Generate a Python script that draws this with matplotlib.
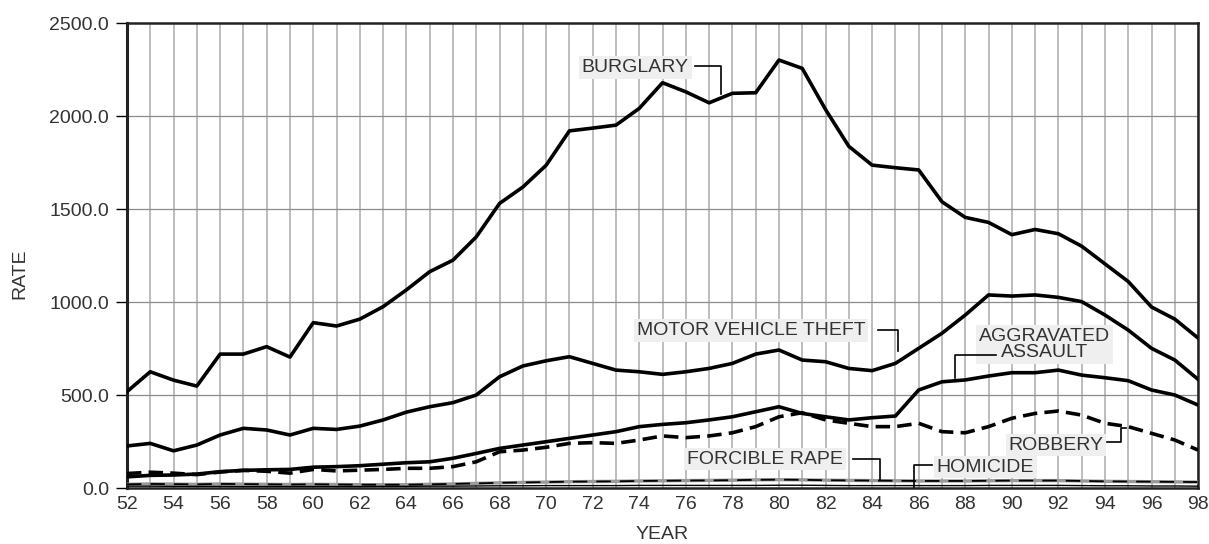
import matplotlib
matplotlib.use("Agg")
import matplotlib.pyplot as plt

plt.rcParams['font.family'] = ['Liberation Sans', 'DejaVu Sans']

years = list(range(1952, 1999))

burglary = [518, 625, 580, 548, 720, 720, 760, 704, 889, 871, 908, 975, 1065, 1163, 1225,
            1350, 1530, 1618, 1735, 1920, 1935, 1951, 2041, 2179, 2130, 2071, 2122, 2125, 2301,
            2256, 2035, 1837, 1736, 1722, 1710, 1539, 1455, 1428, 1362, 1390, 1367, 1300, 1205,
            1110, 973, 908, 806]

motor_vehicle_theft = [226, 240, 200, 231, 285, 321, 312, 285, 321, 315, 333, 366, 408, 437, 459,
                       500, 598, 656, 684, 706, 670, 634, 625, 611, 625, 643, 670, 720, 742,
                       688, 679, 643, 631, 670, 751, 832, 930, 1038, 1032, 1038, 1025, 1002, 930,
                       849, 751, 688, 584]

aggravated_assault = [60, 68, 70, 75, 88, 95, 98, 100, 112, 115, 120, 128, 136, 141, 160,
                      186, 213, 231, 249, 267, 285, 303, 330, 342, 351, 366, 383, 410, 437,
                      401, 383, 366, 378, 387, 527, 571, 581, 602, 620, 620, 634, 607, 593,
                      577, 527, 500, 446]

robbery = [78, 85, 80, 72, 86, 95, 90, 80, 100, 92, 96, 100, 106, 106, 115,
           141, 195, 204, 219, 240, 244, 240, 258, 280, 271, 280, 297, 330, 383,
           405, 366, 348, 330, 330, 348, 303, 297, 330, 375, 401, 414, 392, 348,
           330, 294, 258, 204]

forcible_rape = [20, 22, 21, 20, 22, 21, 20, 19, 20, 19, 18, 18, 18, 20, 22,
                 25, 28, 30, 32, 34, 35, 36, 38, 39, 40, 41, 42, 44, 45,
                 44, 42, 41, 40, 39, 38, 38, 38, 39, 40, 40, 40, 38, 36,
                 35, 34, 33, 32]

homicide = [10, 10, 9, 9, 9, 8, 8, 8, 8, 8, 8, 9, 9, 10, 10,
            11, 12, 12, 13, 13, 13, 13, 14, 14, 14, 14, 14, 14, 15,
            15, 14, 13, 13, 13, 13, 13, 13, 14, 14, 14, 14, 13, 12,
            12, 11, 11, 10]

xticks = list(range(1952, 1999, 2))
xtick_labels = [f"{y % 100:02d}" for y in xticks]
yticks = [0, 500, 1000, 1500, 2000, 2500]
ytick_labels = [f"{v:.1f}" for v in yticks]

fig = plt.figure(figsize=(12.09, 5.44), dpi=100)
ax = fig.add_axes([0.105, 0.1029, 0.886, 0.8548])

# grid
for y in years:
    ax.axvline(y, color='#b8b8b8', lw=1.3, zorder=1)
for v in yticks[1:-1]:
    ax.axhline(v, color='#8a8a8a', lw=0.9, zorder=1)

lw = 2.6
ax.plot(years, burglary, color='black', lw=lw, zorder=4, solid_joinstyle='round')
ax.plot(years, motor_vehicle_theft, color='black', lw=lw, zorder=4, solid_joinstyle='round')
ax.plot(years, aggravated_assault, color='black', lw=lw, zorder=4, solid_joinstyle='round')
ax.plot(years, robbery, color='black', lw=lw, zorder=5, linestyle=(0, (4, 2)))
ax.plot(years, forcible_rape, color='#9a9a9a', lw=2.4, zorder=3)
ax.plot(years, forcible_rape, color='black', lw=1.3, zorder=3, linestyle=(0, (8, 5)))
ax.plot(years, homicide, color='black', lw=1.0, zorder=3)

ax.set_xlim(1952, 1998)
ax.set_ylim(0, 2500)
ax.set_xticks(xticks)
ax.set_xticklabels(xtick_labels)
ax.set_yticks(yticks)
ax.set_yticklabels(ytick_labels)
ax.tick_params(axis='x', length=0, pad=6, labelsize=14, labelcolor='#333333')
ax.tick_params(axis='y', length=8, width=1.0, pad=5, labelsize=14, labelcolor='#333333')
for s in ax.spines.values():
    s.set_linewidth(1.8)
    s.set_color('#222222')
ax.spines['left'].set_linewidth(2.2)

ax.set_xlabel('YEAR', fontsize=14, color='#333333', labelpad=9)
ax.set_ylabel('RATE', fontsize=14, color='#333333')
ax.yaxis.set_label_coords(-0.092, 0.46)

label_kw = dict(fontsize=14, color='#333333', ha='center', va='center', zorder=6,
                bbox=dict(boxstyle='square,pad=0.15', fc='#efefef', ec='none'))
leader_kw = dict(color='black', lw=1.2, zorder=6)

ax.text(1973.83, 2263, 'BURGLARY', **label_kw)
ax.plot([1976.4, 1977.5, 1977.5], [2268, 2268, 2120], **leader_kw)

ax.text(1978.8, 849, 'MOTOR VEHICLE THEFT', **label_kw)
ax.plot([1984.27, 1985.13, 1985.13], [849, 849, 735], **leader_kw)

ax.text(1991.4, 770, 'AGGRAVATED\nASSAULT', linespacing=0.95, **label_kw)
ax.plot([1989.3, 1987.58, 1987.58], [715, 715, 590], **leader_kw)

ax.text(1991.9, 231, 'ROBBERY', **label_kw)
ax.plot([1994.1, 1994.7, 1994.7, 1994.9], [249, 249, 321, 321], **leader_kw)

ax.text(1979.4, 156, 'FORCIBLE RAPE', **label_kw)
ax.plot([1983.2, 1984.36, 1984.36], [158, 158, 45], **leader_kw)

ax.text(1988.87, 113, 'HOMICIDE', **label_kw)
ax.plot([1986.58, 1985.78, 1985.78], [124, 124, 5], **leader_kw)

fig.savefig('out.png', dpi=100)
